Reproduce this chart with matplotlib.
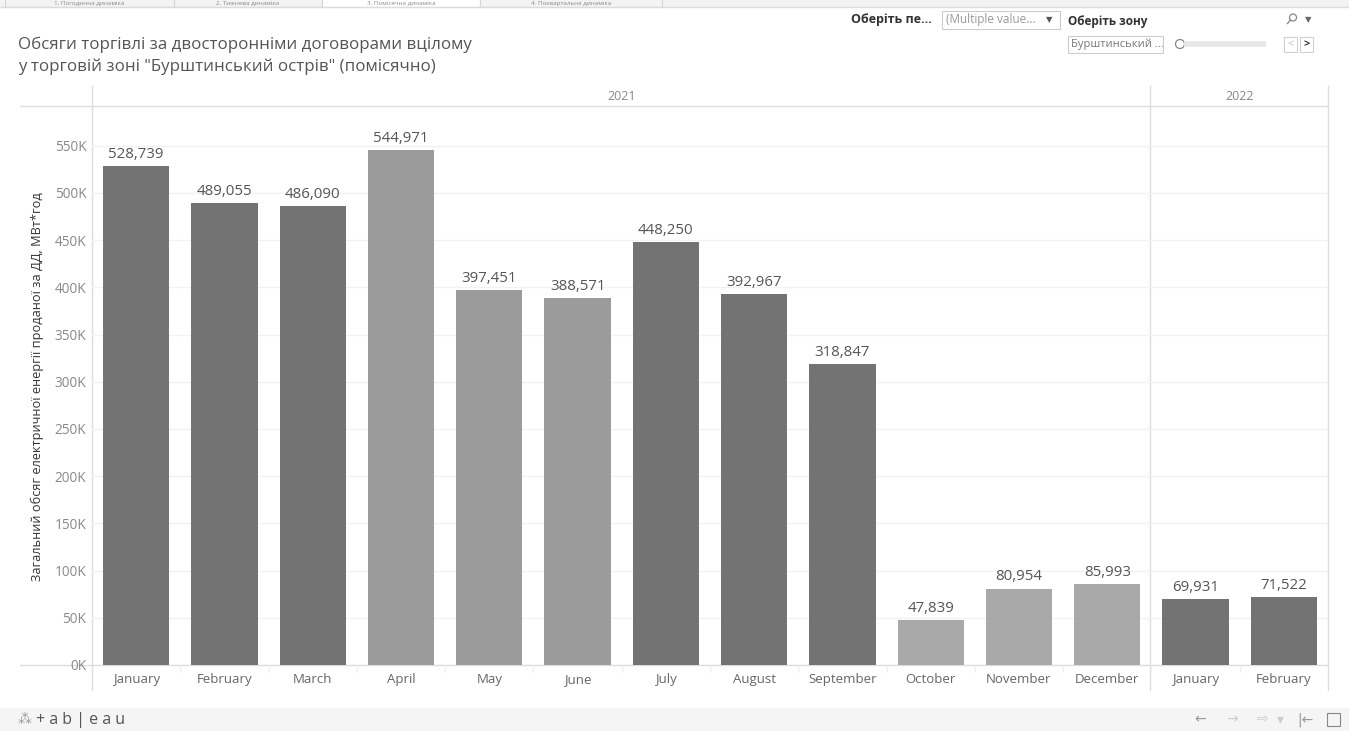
import matplotlib
matplotlib.use('Agg')
import matplotlib.pyplot as plt
from matplotlib.patches import Rectangle, Circle

plt.rcParams['font.family'] = ['Open Sans', 'DejaVu Sans']

months = ['January', 'February', 'March', 'April', 'May', 'June', 'July',
          'August', 'September', 'October', 'November', 'December',
          'January', 'February']
years = ['2021', '2022']
months_per_year = [12, 2]
volumes = [528739, 489055, 486090, 544971, 397451, 388571, 448250,
           392967, 318847, 47839, 80954, 85993, 69931, 71522]
quarter_colors = ['#737373', '#737373', '#737373', '#9b9b9b', '#9b9b9b', '#9b9b9b',
                  '#737373', '#737373', '#737373', '#a9a9a9', '#a9a9a9', '#a9a9a9',
                  '#737373', '#737373']
yticks = list(range(0, 550001, 50000))

title = 'Обсяги торгівлі за двосторонніми договорами вцілому\nу торговій зоні "Бурштинський острів" (помісячно)'
ylabel = 'Загальний обсяг електричної енергії проданої за ДД, МВт*год'
tabs = ['1. Погодинна динаміка', '2. Тижнева динаміка', '3. Помісячна динаміка',
        '4. Поквартальна динаміка']

W, H = 1349, 731
fig = plt.figure(figsize=(W / 100, H / 100), dpi=100)

# overlay in pixel coords for the dashboard chrome
ov = fig.add_axes([0, 0, 1, 1])
ov.set_xlim(0, W)
ov.set_ylim(H, 0)
ov.axis('off')

# tab strip
ov.add_patch(Rectangle((0, 0), W, 7, color='#f3f3f3', lw=0))
ov.plot([0, W], [7, 7], color='#dcdcdc', lw=1)
tab_edges = [5, 174, 322, 480, 662]
for i, t in enumerate(tabs):
    x0, x1 = tab_edges[i], tab_edges[i + 1]
    fc = 'white' if i == 2 else '#f3f3f3'
    ov.add_patch(Rectangle((x0, -5), x1 - x0, 12, fc=fc, ec='#d4d4d4', lw=0.8))
    ov.text((x0 + x1) / 2, 3.6, t, ha='center', va='center', fontsize=4.5, color='#8a8a8a')

# title
ov.text(18, 56, title, ha='left', va='center', fontsize=12.2, color='#555555',
        linespacing=1.45)

# filters
ov.text(851, 20, 'Оберіть пе...', ha='left', va='center', fontsize=9,
        fontweight='bold', color='#333333')
ov.add_patch(Rectangle((942, 11), 118, 18, fc='white', ec='#cccccc', lw=0.8))
ov.text(946, 20, '(Multiple value...', ha='left', va='center', fontsize=8.5, color='#999999')
ov.text(1049, 20, '▼', ha='center', va='center', fontsize=6, color='#555555',
        family='DejaVu Sans')
ov.text(1068, 22, 'Оберіть зону', ha='left', va='center', fontsize=8.5,
        fontweight='bold', color='#333333')
ov.add_patch(Rectangle((1068, 36), 95, 17, fc='white', ec='#cccccc', lw=0.8))
ov.text(1071, 44.5, 'Бурштинський ...', ha='left', va='center', fontsize=8, color='#777777')
ov.plot([1184, 1266], [44, 44], color='#e6e6e6', lw=4, solid_capstyle='butt')
ov.add_patch(Circle((1180, 44), 4.5, fc='white', ec='#888888', lw=0.9))
# magnifier icon
ov.add_patch(Circle((1293, 17.5), 3.5, fc='none', ec='#888888', lw=0.9))
ov.plot([1290.5, 1287.5], [20, 23.5], color='#888888', lw=1)
ov.text(1308, 20, '▼', ha='center', va='center', fontsize=6, color='#666666',
        family='DejaVu Sans')
ov.add_patch(Rectangle((1284, 37), 13, 15, fc='white', ec='#d0d0d0', lw=0.8))
ov.add_patch(Rectangle((1300, 37), 13, 15, fc='white', ec='#d0d0d0', lw=0.8))
ov.text(1290.5, 44.5, '<', ha='center', va='center', fontsize=8, color='#bbbbbb')
ov.text(1306.5, 44.5, '>', ha='center', va='center', fontsize=8, color='#333333',
        fontweight='bold')

# frame lines of the table
left_px, right_px, top_px, base_px = 92, 1328, 107, 665
for xp in [left_px, 1150, right_px]:
    ov.plot([xp, xp], [86, 690], color='#dddddd', lw=1)
ov.plot([20, right_px], [top_px - 1, top_px - 1], color='#dddddd', lw=1)

# footer
ov.add_patch(Rectangle((0, 708), W, 23, color='#f5f5f5', lw=0))
ov.text(18, 719.5, '⁂', ha='left', va='center', fontsize=10, color='#999999',
        family='DejaVu Sans')
ov.text(36, 719.5, '+ a b | e a u', ha='left', va='center', fontsize=11.5, color='#555555')
for xp, s in [(1200, '←'), (1232, '→'), (1262, '⇨'), (1280, '▾'), (1305, '|←')]:
    ov.text(xp, 719.5, s, ha='center', va='center', fontsize=10,
            color='#999999' if s in ('←', '|←') else '#cccccc', family='DejaVu Sans')
ov.add_patch(Rectangle((1327, 713), 13, 13, fc='none', ec='#888888', lw=0.8))

# main chart
ax = fig.add_axes([left_px / W, (H - base_px) / H, (right_px - left_px) / W,
                   (base_px - top_px) / H])
ax.patch.set_alpha(0)
x = list(range(len(months)))
ax.bar(x, volumes, width=0.75, color=quarter_colors, zorder=2)
for xi, v in zip(x, volumes):
    ax.annotate(f'{v:,}', (xi, v), xytext=(0, 3), textcoords='offset points',
                ha='center', va='bottom', fontsize=10.8, color='#555555')

ax.set_xlim(-0.5, len(months) - 0.5)
ax.set_ylim(0, 591000)
ax.set_yticks(yticks)
ax.set_yticklabels([f'{v // 1000}K' for v in yticks])
ax.set_xticks(x)
ax.set_xticklabels(months)
ax.tick_params(axis='y', length=0, pad=4, labelsize=9.8, labelcolor='#888888')
ax.tick_params(axis='x', length=0, pad=6, labelsize=9.5, labelcolor='#666666')
ax.grid(axis='y', color='#f2f2f2', lw=1, zorder=0)
for s in ax.spines.values():
    s.set_visible(False)

# baseline, cell separators and year header
ov.plot([20, right_px], [base_px, base_px], color='#dddddd', lw=1)
cell = (right_px - left_px) / len(months)
for i in range(1, len(months)):
    xp = left_px + i * cell
    ov.plot([xp, xp], [base_px, base_px + 6], color='#eeeeee', lw=1)
start = 0
for yr, n in zip(years, months_per_year):
    cx = left_px + (start + n / 2) * cell
    ov.text(cx, 96, yr, ha='center', va='center', fontsize=9, color='#888888')
    start += n

fig.text(37 / W, 1 - 387 / H, ylabel, rotation=90, ha='center', va='center',
         fontsize=9.2, color='#333333')

fig.savefig('out.png', dpi=100)
